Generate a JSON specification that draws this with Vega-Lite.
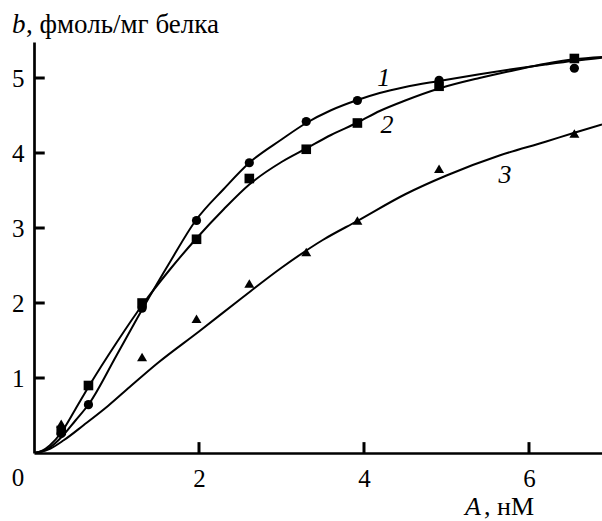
{
  "$schema": "https://vega.github.io/schema/vega-lite/v6.json",
  "width": 568,
  "height": 411,
  "autosize": "none",
  "padding": {"left": 34, "top": 42, "right": 0, "bottom": 68},
  "background": "white",
  "config": {
    "view": {"stroke": null},
    "font": "serif",
    "axis": {
      "grid": false,
      "domainColor": "black",
      "domainWidth": 2.7,
      "ticks": false,
      "tickSize": 0,
      "labelFont": "serif",
      "labelFontSize": 25,
      "labelColor": "black",
      "format": "d",
      "title": null
    }
  },
  "datasets": {
    "curves": [
      {"series": "1", "x": 0, "y": 0},
      {"series": "1", "x": 0.1, "y": 0.02},
      {"series": "1", "x": 0.2, "y": 0.08},
      {"series": "1", "x": 0.34, "y": 0.22},
      {"series": "1", "x": 0.5, "y": 0.43},
      {"series": "1", "x": 0.67, "y": 0.66},
      {"series": "1", "x": 1.0, "y": 1.3},
      {"series": "1", "x": 1.33, "y": 1.95},
      {"series": "1", "x": 1.65, "y": 2.55},
      {"series": "1", "x": 1.96, "y": 3.1},
      {"series": "1", "x": 2.3, "y": 3.52},
      {"series": "1", "x": 2.61, "y": 3.87},
      {"series": "1", "x": 3.0, "y": 4.18},
      {"series": "1", "x": 3.3, "y": 4.4},
      {"series": "1", "x": 3.6, "y": 4.57},
      {"series": "1", "x": 3.93, "y": 4.71},
      {"series": "1", "x": 4.19, "y": 4.8},
      {"series": "1", "x": 4.5, "y": 4.88},
      {"series": "1", "x": 4.91, "y": 4.96},
      {"series": "1", "x": 5.4, "y": 5.05},
      {"series": "1", "x": 5.81, "y": 5.12},
      {"series": "1", "x": 6.2, "y": 5.18},
      {"series": "1", "x": 6.55, "y": 5.23},
      {"series": "1", "x": 6.885, "y": 5.27},
      {"series": "2", "x": 0, "y": 0},
      {"series": "2", "x": 0.1, "y": 0.03},
      {"series": "2", "x": 0.19, "y": 0.1},
      {"series": "2", "x": 0.335, "y": 0.28},
      {"series": "2", "x": 0.5, "y": 0.58},
      {"series": "2", "x": 0.66, "y": 0.88},
      {"series": "2", "x": 1.0, "y": 1.47},
      {"series": "2", "x": 1.33, "y": 2.0},
      {"series": "2", "x": 1.65, "y": 2.45},
      {"series": "2", "x": 1.96, "y": 2.85},
      {"series": "2", "x": 2.3, "y": 3.25},
      {"series": "2", "x": 2.61, "y": 3.58},
      {"series": "2", "x": 3.0, "y": 3.88},
      {"series": "2", "x": 3.3, "y": 4.06},
      {"series": "2", "x": 3.6, "y": 4.24},
      {"series": "2", "x": 3.93, "y": 4.41},
      {"series": "2", "x": 4.19, "y": 4.56},
      {"series": "2", "x": 4.5, "y": 4.7},
      {"series": "2", "x": 4.91, "y": 4.86},
      {"series": "2", "x": 5.4, "y": 5.0},
      {"series": "2", "x": 5.81, "y": 5.1},
      {"series": "2", "x": 6.2, "y": 5.19},
      {"series": "2", "x": 6.55, "y": 5.25},
      {"series": "2", "x": 6.885, "y": 5.28},
      {"series": "3", "x": 0, "y": 0},
      {"series": "3", "x": 0.2, "y": 0.06},
      {"series": "3", "x": 0.36, "y": 0.17},
      {"series": "3", "x": 0.6, "y": 0.37},
      {"series": "3", "x": 0.9, "y": 0.63},
      {"series": "3", "x": 1.16, "y": 0.88},
      {"series": "3", "x": 1.5, "y": 1.2},
      {"series": "3", "x": 2.0, "y": 1.62},
      {"series": "3", "x": 2.5, "y": 2.05},
      {"series": "3", "x": 3.0, "y": 2.47},
      {"series": "3", "x": 3.5, "y": 2.84},
      {"series": "3", "x": 3.93, "y": 3.1},
      {"series": "3", "x": 4.5, "y": 3.45},
      {"series": "3", "x": 5.0, "y": 3.7},
      {"series": "3", "x": 5.65, "y": 3.97},
      {"series": "3", "x": 6.2, "y": 4.15},
      {"series": "3", "x": 6.55, "y": 4.27},
      {"series": "3", "x": 6.885, "y": 4.38}
    ],
    "points": [
      {"series": "1", "x": 0.33, "y": 0.26},
      {"series": "1", "x": 0.66, "y": 0.645},
      {"series": "1", "x": 1.31, "y": 1.93},
      {"series": "1", "x": 1.97, "y": 3.1},
      {"series": "1", "x": 2.61, "y": 3.87},
      {"series": "1", "x": 3.3, "y": 4.42},
      {"series": "1", "x": 3.92, "y": 4.7},
      {"series": "1", "x": 4.91, "y": 4.97},
      {"series": "1", "x": 6.55, "y": 5.13},
      {"series": "2", "x": 0.33, "y": 0.3},
      {"series": "2", "x": 0.66, "y": 0.9},
      {"series": "2", "x": 1.31, "y": 2.0},
      {"series": "2", "x": 1.97, "y": 2.85},
      {"series": "2", "x": 2.61, "y": 3.66},
      {"series": "2", "x": 3.3, "y": 4.05},
      {"series": "2", "x": 3.92, "y": 4.4},
      {"series": "2", "x": 4.91, "y": 4.89},
      {"series": "2", "x": 6.55, "y": 5.26},
      {"series": "3", "x": 0.33, "y": 0.39},
      {"series": "3", "x": 1.31, "y": 1.28},
      {"series": "3", "x": 1.97, "y": 1.79},
      {"series": "3", "x": 2.61, "y": 2.26},
      {"series": "3", "x": 3.3, "y": 2.68},
      {"series": "3", "x": 3.92, "y": 3.1},
      {"series": "3", "x": 4.91, "y": 3.79},
      {"series": "3", "x": 6.55, "y": 4.26}
    ],
    "labels": [
      {"label": "1", "x": 4.24, "y": 5.0},
      {"label": "2", "x": 4.28, "y": 4.38},
      {"label": "3", "x": 5.71, "y": 3.71}
    ],
    "xticks": [{"v": 2}, {"v": 4}, {"v": 6}],
    "yticks": [{"v": 1}, {"v": 2}, {"v": 3}, {"v": 4}, {"v": 5}]
  },
  "layer": [
    {
      "data": {"name": "curves"},
      "mark": {"type": "line", "interpolate": "monotone", "color": "black", "strokeWidth": 2, "clip": true},
      "encoding": {
        "x": {"field": "x", "type": "quantitative", "scale": {"domain": [0, 6.885], "nice": false},
          "axis": {"values": [2, 4, 6], "labelPadding": 25, "labelBaseline": "middle"}},
        "y": {"field": "y", "type": "quantitative", "scale": {"domain": [0, 5.48], "nice": false},
          "axis": {"values": [1, 2, 3, 4, 5], "labelPadding": 10}},
        "detail": {"field": "series"}
      }
    },
    {
      "data": {"name": "xticks"},
      "mark": {"type": "rule", "stroke": "black", "strokeWidth": 3},
      "encoding": {
        "x": {"field": "v", "type": "quantitative"},
        "y": {"datum": 0},
        "y2": {"datum": 0.145}
      }
    },
    {
      "data": {"name": "yticks"},
      "mark": {"type": "rule", "stroke": "black", "strokeWidth": 3},
      "encoding": {
        "y": {"field": "v", "type": "quantitative"},
        "x": {"datum": 0},
        "x2": {"datum": 0.13}
      }
    },
    {
      "data": {"name": "points"},
      "mark": {"type": "point", "filled": true, "color": "black", "opacity": 1},
      "encoding": {
        "x": {"field": "x", "type": "quantitative"},
        "y": {"field": "y", "type": "quantitative"},
        "shape": {"field": "series", "type": "nominal",
          "scale": {"domain": ["1", "2", "3"], "range": ["circle", "square", "triangle-up"]}, "legend": null},
        "size": {"field": "series", "type": "nominal",
          "scale": {"domain": ["1", "2", "3"], "range": [85, 100, 75]}, "legend": null}
      }
    },
    {
      "data": {"name": "labels"},
      "mark": {"type": "text", "fontStyle": "italic", "fontSize": 26, "color": "black", "align": "center", "baseline": "middle"},
      "encoding": {
        "x": {"field": "x", "type": "quantitative"},
        "y": {"field": "y", "type": "quantitative"},
        "text": {"field": "label"}
      }
    },
    {
      "data": {"values": [{}]},
      "mark": {"type": "text", "fontSize": 25, "color": "black", "align": "center", "baseline": "middle", "dx": -16, "dy": 25},
      "encoding": {"x": {"datum": 0}, "y": {"datum": 0}, "text": {"value": "0"}}
    },
    {
      "data": {"values": [{}]},
      "mark": {"type": "text", "fontStyle": "italic", "fontSize": 27, "color": "black", "align": "left", "baseline": "alphabetic", "dx": -22, "dy": -9},
      "encoding": {"x": {"datum": 0}, "y": {"datum": 5.48}, "text": {"value": "b"}}
    },
    {
      "data": {"values": [{}]},
      "mark": {"type": "text", "fontSize": 27, "color": "black", "align": "left", "baseline": "alphabetic", "dx": -8, "dy": -9},
      "encoding": {"x": {"datum": 0}, "y": {"datum": 5.48}, "text": {"value": ", фмоль/мг белка"}}
    },
    {
      "data": {"values": [{}]},
      "mark": {"type": "text", "fontStyle": "italic", "fontSize": 26, "color": "black", "align": "left", "baseline": "alphabetic", "dx": 0, "dy": 62},
      "encoding": {"x": {"datum": 5.224}, "y": {"datum": 0}, "text": {"value": "A"}}
    },
    {
      "data": {"values": [{}]},
      "mark": {"type": "text", "fontSize": 26, "color": "black", "align": "left", "baseline": "alphabetic", "dx": 19, "dy": 62},
      "encoding": {"x": {"datum": 5.224}, "y": {"datum": 0}, "text": {"value": ", нМ"}}
    }
  ]
}
